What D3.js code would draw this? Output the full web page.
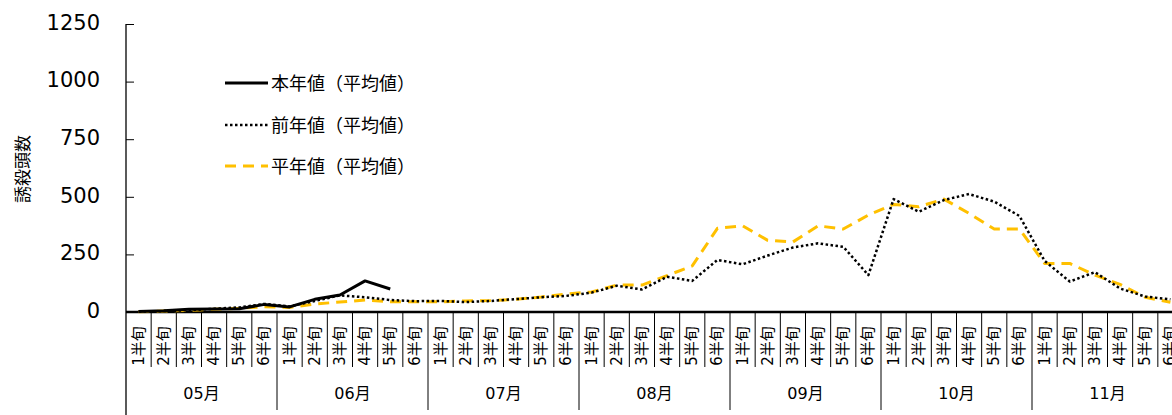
<!DOCTYPE html>
<html><head><meta charset="utf-8">
<script src="https://cdn.jsdelivr.net/npm/d3@7"></script>
<style>
html,body{margin:0;padding:0;background:#fff;}
svg{display:block;font-family:"DejaVu Sans","Noto Sans CJK JP",sans-serif;}
</style></head>
<body><svg id="c" width="1172" height="415"></svg>
<script>
const months = ["05月","06月","07月","08月","09月","10月","11月"];
const halves = ["1半旬","2半旬","3半旬","4半旬","5半旬","6半旬"];
const yTicks = [0,250,500,750,1000,1250];
const seriesNames = ["本年値（平均値）","前年値（平均値）","平年値（平均値）"];
const currentYear = [2,5,12,13,14,33, 22,55,74,135,100];
const previousYear = [2,4,8,14,20,35, 24,48,72,64,52,47, 48,43,48,56,64,70, 84,114,98,153,135,226,
  207,245,280,298,283,160, 490,435,486,512,479,417, 222,132,173,102,67,55];
const normalYear = [1,4,7,12,16,23, 20,35,43,52,45,44, 44,48,50,55,65,78, 87,117,117,158,200,363,
  374,311,304,374,360,421, 467,457,490,428,360,360, 211,211,160,120,64,42];

const svg = d3.select("#c");
const cats = [];
months.forEach(m => halves.forEach(h => cats.push({m, h})));
const x = d3.scaleBand().domain(d3.range(cats.length)).range([126, 1183]).padding(0);
const bw = x.bandwidth();
const y = d3.scaleLinear().domain([0,1250]).range([312, 24]);

// y axis
const yAxis = d3.axisLeft(y).tickValues(yTicks).tickFormat(d3.format("d")).tickSize(-8).tickPadding(26);
const ya = svg.append("g").attr("transform","translate(126,0)").call(yAxis);
ya.select(".domain").remove();
ya.selectAll(".tick line").attr("stroke","#000").attr("stroke-width",1);
ya.selectAll(".tick text").attr("font-size",21).attr("fill","#000").attr("dy","0.25em")
  .attr("font-family","'DejaVu Sans',sans-serif");
svg.append("line").attr("x1",126).attr("x2",126).attr("y1",y(1250)).attr("y2",415)
  .attr("stroke","#000").attr("stroke-width",1.3);

// y title
svg.append("text").attr("transform","translate(21,169) rotate(-90)")
  .attr("text-anchor","middle").attr("dominant-baseline","central")
  .attr("font-size",17).attr("font-family","'Noto Sans CJK JP',sans-serif").text("誘殺頭数");

// x axis
svg.append("line").attr("x1",126).attr("x2",1172).attr("y1",y(0)).attr("y2",y(0))
  .attr("stroke","#000").attr("stroke-width",2.7);
const xa = svg.append("g");
cats.forEach((c,i) => {
  const xr = x(i) + bw;
  const isMonthEnd = (i % 6) === 5;
  xa.append("line").attr("x1",xr).attr("x2",xr).attr("y1",y(0)).attr("y2", isMonthEnd ? 410 : 367)
    .attr("stroke","#000").attr("stroke-width",1);
  xa.append("text").attr("transform",`translate(${x(i)+bw/2},346) rotate(-90)`)
    .attr("text-anchor","middle").attr("dominant-baseline","central")
    .attr("font-size",15).text(c.h);
});
months.forEach((m,k) => {
  const cx = x(k*6) + bw*3;
  xa.append("text").attr("x",cx).attr("y",393).attr("text-anchor","middle")
    .attr("dominant-baseline","central").attr("font-size",16).text(m);
});

// lines
const line = d3.line().x((d,i)=>x(i)+bw/2).y(d=>y(d));
const styles = [
  {data: currentYear, stroke:"#000", width:3, dash:null},
  {data: previousYear, stroke:"#000", width:2.5, dash:"2.5,2.5"},
  {data: normalYear, stroke:"#FFC000", width:3, dash:"11,7"}
];
[styles[2], styles[1], styles[0]].forEach(s => {
  svg.append("path").datum(s.data).attr("d",line).attr("fill","none")
    .attr("stroke",s.stroke).attr("stroke-width",s.width)
    .attr("stroke-dasharray",s.dash).attr("stroke-linejoin","round");
});

// legend
const ly = [83,125,166];
styles.forEach((s,k) => {
  svg.append("line").attr("x1",225).attr("x2",268).attr("y1",ly[k]).attr("y2",ly[k])
    .attr("stroke",s.stroke).attr("stroke-width",s.width).attr("stroke-dasharray",s.dash);
  svg.append("text").attr("x",271).attr("y",ly[k]-1).attr("dominant-baseline","central")
    .attr("font-size",18).attr("font-family","'Noto Sans CJK JP',sans-serif").text(seriesNames[k]);
});
</script></body></html>
